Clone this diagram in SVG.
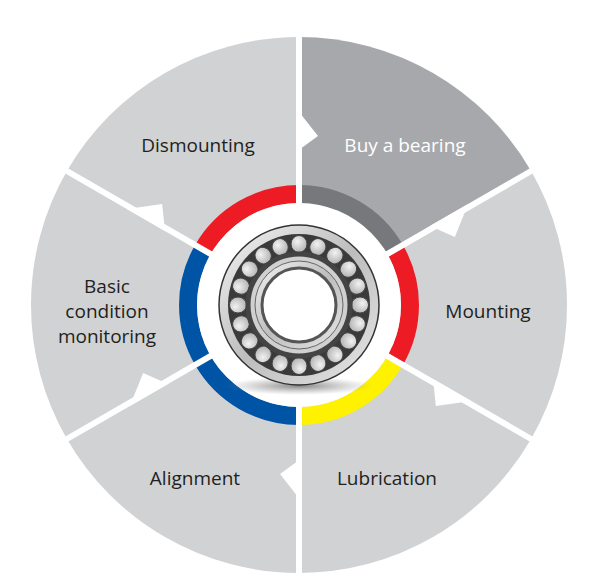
<svg xmlns="http://www.w3.org/2000/svg" xmlns:xlink="http://www.w3.org/1999/xlink" width="602" height="587" viewBox="0 0 602 587">
<style>
.sec{fill:#d1d2d4}
.buy{fill:#a7a8ab}
.ring{fill:none;stroke-width:18}
.div{stroke:#fff;stroke-width:6}
.lbl{font-family:"Open Sans","Liberation Sans",sans-serif;font-size:19px;fill:#231f20;text-anchor:middle}
</style>
<defs>
<linearGradient id="silver" x1="0" y1="0" x2="1" y2="1">
<stop offset="0" stop-color="#f4f4f4"/><stop offset="0.5" stop-color="#bdbdbd"/><stop offset="1" stop-color="#e8e8e8"/>
</linearGradient>
<radialGradient id="rol" cx="0.4" cy="0.35" r="0.7">
<stop offset="0" stop-color="#f2f2f2"/><stop offset="1" stop-color="#b0b0b0"/>
</radialGradient>
<radialGradient id="shadow" cx="0.5" cy="0.5" r="0.5">
<stop offset="0" stop-color="#555" stop-opacity="0.7"/><stop offset="1" stop-color="#888" stop-opacity="0"/>
</radialGradient>
<ellipse id="roller" cx="299" cy="244" rx="8" ry="8.5" fill="url(#rol)" stroke="#444" stroke-width="1"/>
<polygon id="notch" points="296,108 318,136 296,152" fill="#fff"/>
</defs>
<g id="sectors">
<g id="buy-a-bearing"><path class="buy" d="M299,305 L299,37 A268,268 0 0,1 531.1,171 Z"/></g>
<g id="mounting"><path class="sec" d="M299,305 L531.1,171 A268,268 0 0,1 531.1,439 Z"/></g>
<g id="lubrication"><path class="sec" d="M299,305 L531.1,439 A268,268 0 0,1 299,573 Z"/></g>
<g id="alignment"><path class="sec" d="M299,305 L299,573 A268,268 0 0,1 66.9,439 Z"/></g>
<g id="basic-condition-monitoring"><path class="sec" d="M299,305 L66.9,439 A268,268 0 0,1 66.9,171 Z"/></g>
<g id="dismounting"><path class="sec" d="M299,305 L66.9,171 A268,268 0 0,1 299,37 Z"/></g>
</g>
<g id="ring">
<path class="ring" stroke="#77787b" d="M299,194 A111,111 0 0,1 395.1,249.5"/>
<path class="ring" stroke="#ed1c24" d="M395.1,249.5 A111,111 0 0,1 395.1,360.5"/>
<path class="ring" stroke="#fff200" d="M395.1,360.5 A111,111 0 0,1 299,416"/>
<path class="ring" stroke="#0054a6" d="M299,416 A111,111 0 0,1 202.9,360.5"/>
<path class="ring" stroke="#0054a6" d="M202.9,360.5 A111,111 0 0,1 202.9,249.5"/>
<path class="ring" stroke="#ed1c24" d="M202.9,249.5 A111,111 0 0,1 299,194"/>
<circle cx="299" cy="305" r="102" fill="#fff"/>
</g>
<g id="connectors">
<line class="div" x1="299" y1="305" x2="299" y2="33"/>
<line class="div" x1="299" y1="305" x2="534.6" y2="169"/>
<line class="div" x1="299" y1="305" x2="534.6" y2="441"/>
<line class="div" x1="299" y1="305" x2="299" y2="577"/>
<line class="div" x1="299" y1="305" x2="63.4" y2="441"/>
<line class="div" x1="299" y1="305" x2="63.4" y2="169"/>
<use xlink:href="#notch"/>
<use xlink:href="#notch" transform="rotate(60 299 305)"/>
<use xlink:href="#notch" transform="rotate(120 299 305)"/>
<use xlink:href="#notch" transform="rotate(180 299 305)"/>
<use xlink:href="#notch" transform="rotate(240 299 305)"/>
<use xlink:href="#notch" transform="rotate(300 299 305)"/>
</g>
<g id="bearing">
<ellipse cx="299" cy="386" rx="75" ry="9" fill="url(#shadow)"/>
<circle cx="299" cy="305" r="80" fill="url(#silver)" stroke="#333" stroke-width="1.5"/>
<circle cx="299" cy="305" r="71" fill="#3a3a3a"/>
<use xlink:href="#roller"/>
<use xlink:href="#roller" transform="rotate(18 299 305)"/>
<use xlink:href="#roller" transform="rotate(36 299 305)"/>
<use xlink:href="#roller" transform="rotate(54 299 305)"/>
<use xlink:href="#roller" transform="rotate(72 299 305)"/>
<use xlink:href="#roller" transform="rotate(90 299 305)"/>
<use xlink:href="#roller" transform="rotate(108 299 305)"/>
<use xlink:href="#roller" transform="rotate(126 299 305)"/>
<use xlink:href="#roller" transform="rotate(144 299 305)"/>
<use xlink:href="#roller" transform="rotate(162 299 305)"/>
<use xlink:href="#roller" transform="rotate(180 299 305)"/>
<use xlink:href="#roller" transform="rotate(198 299 305)"/>
<use xlink:href="#roller" transform="rotate(216 299 305)"/>
<use xlink:href="#roller" transform="rotate(234 299 305)"/>
<use xlink:href="#roller" transform="rotate(252 299 305)"/>
<use xlink:href="#roller" transform="rotate(270 299 305)"/>
<use xlink:href="#roller" transform="rotate(288 299 305)"/>
<use xlink:href="#roller" transform="rotate(306 299 305)"/>
<use xlink:href="#roller" transform="rotate(324 299 305)"/>
<use xlink:href="#roller" transform="rotate(342 299 305)"/>
<circle cx="299" cy="305" r="51" fill="#d0d0d0" stroke="#444" stroke-width="5"/>
<circle cx="299" cy="305" r="44" fill="url(#silver)" stroke="#666" stroke-width="1"/>
<circle cx="299" cy="305" r="37" fill="#fff" stroke="#555" stroke-width="3"/>
</g>
<g id="labels">
<text class="lbl" x="198" y="152">Dismounting</text>
<text class="lbl" x="405" y="152" fill="#fff" style="fill:#fff">Buy a bearing</text>
<text class="lbl" x="488" y="318">Mounting</text>
<text class="lbl" x="107" y="293">Basic</text>
<text class="lbl" x="107" y="318">condition</text>
<text class="lbl" x="107" y="343">monitoring</text>
<text class="lbl" x="195" y="485">Alignment</text>
<text class="lbl" x="387" y="485">Lubrication</text>
</g>
</svg>
